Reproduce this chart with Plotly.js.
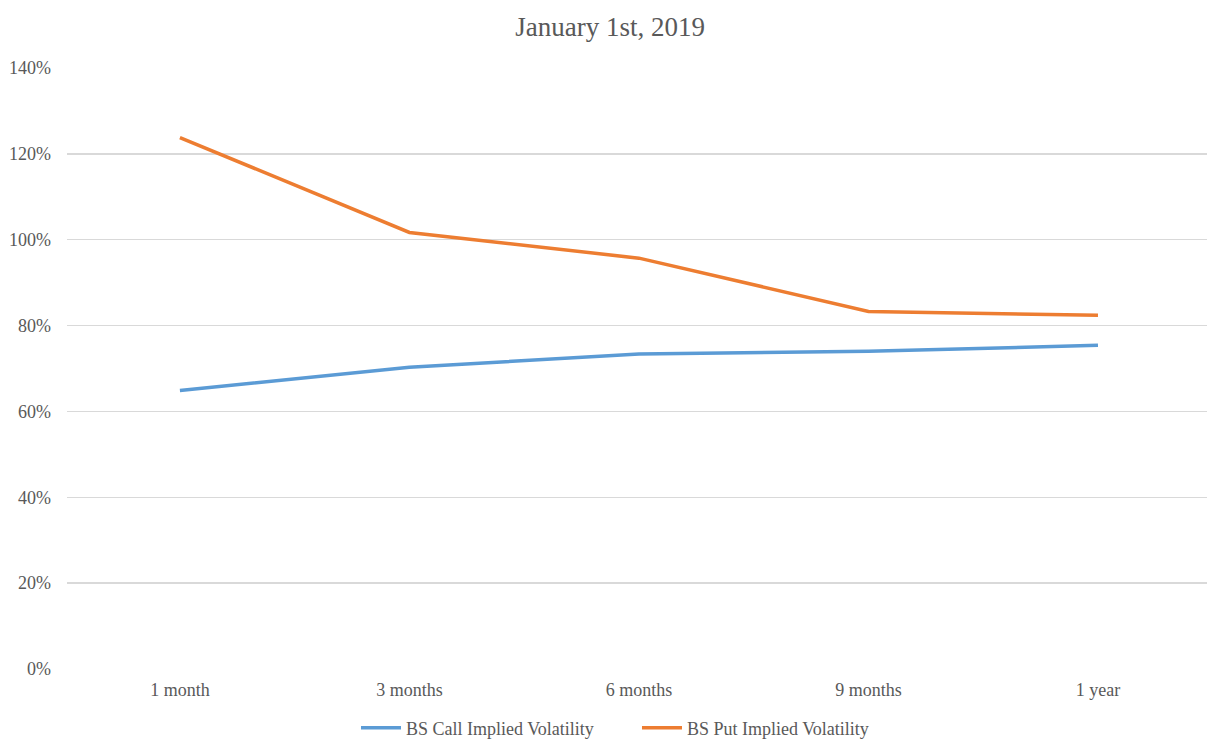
<!DOCTYPE html>
<html>
<head>
<meta charset="utf-8">
<script src="https://cdn.plot.ly/plotly-3.0.1.min.js"></script>
<style>
  html, body { margin: 0; padding: 0; background: #fff; }
  #chart { width: 1207px; height: 740px; }
</style>
</head>
<body>
<div id="chart"></div>
<script>
// Option maturities on the horizontal axis
const maturities = ['1 month', '3 months', '6 months', '9 months', '1 year'];

// Black-Scholes implied volatilities (fractions, shown as %)
const callVol = [0.649, 0.703, 0.734, 0.740, 0.754];
const putVol = [1.238, 1.017, 0.957, 0.833, 0.824];

const seriesNames = ['BS Call Implied Volatility', 'BS Put Implied Volatility'];
const yTicks = [0, 0.2, 0.4, 0.6, 0.8, 1.0, 1.2, 1.4];

const serif = 'Liberation Serif, Times New Roman, serif';
const grey = '#595959';

const traces = [
  {
    x: maturities, y: callVol, name: seriesNames[0],
    type: 'scatter', mode: 'lines',
    line: { color: '#5B9BD5', width: 3.5 }
  },
  {
    x: maturities, y: putVol, name: seriesNames[1],
    type: 'scatter', mode: 'lines',
    line: { color: '#ED7D31', width: 3.5 }
  }
];

const layout = {
  width: 1207, height: 740,
  paper_bgcolor: '#ffffff', plot_bgcolor: '#ffffff',
  margin: { l: 67, r: 0, t: 68, b: 71, autoexpand: false },
  font: { family: serif, color: grey, size: 18 },
  title: {
    text: 'January 1st, 2019',
    font: { family: serif, size: 27, color: grey },
    x: 0.5055, xanchor: 'center',
    y: 1 - 27 / 740, yanchor: 'middle'
  },
  xaxis: {
    type: 'category',
    range: [-0.492, 4.475],
    showgrid: false, zeroline: false, showline: false,
    ticks: '', ticklabelstandoff: 8,
    tickfont: { family: serif, size: 18, color: grey },
    fixedrange: true
  },
  yaxis: {
    range: [0, 1.4],
    tickvals: yTicks,
    tickformat: '.0%',
    showgrid: true, gridcolor: '#D9D9D9', gridwidth: 1.3,
    zeroline: false, showline: false,
    ticks: '', ticklabelstandoff: 15,
    tickfont: { family: serif, size: 18, color: grey },
    fixedrange: true
  },
  showlegend: true,
  legend: {
    orientation: 'h',
    x: 0.2535, xanchor: 'left',
    y: -(728 - 669) / 601, yanchor: 'middle',
    font: { family: serif, size: 18, color: grey },
    itemwidth: 40,
    entrywidth: 226,
    bgcolor: 'rgba(0,0,0,0)'
  }
};

Plotly.newPlot('chart', traces, layout, { displayModeBar: false, staticPlot: true });
</script>
</body>
</html>
